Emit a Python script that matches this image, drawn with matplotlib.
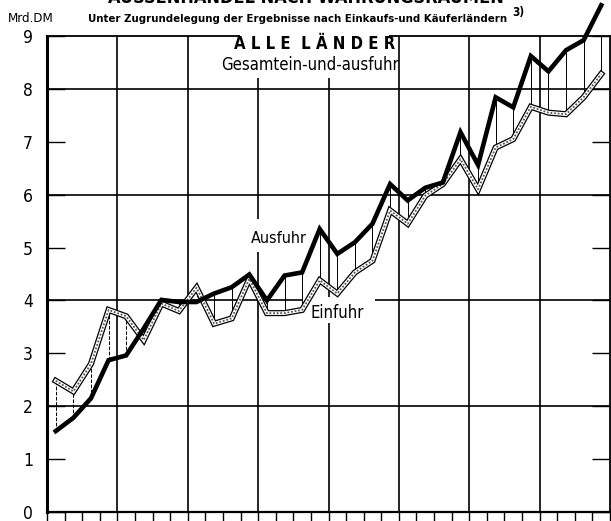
import matplotlib.pyplot as plt
import numpy as np
from matplotlib.patches import Rectangle

# quarterly values, Mrd. DM (8 years x 4 quarters)
ausfuhr = [1.53, 1.78, 2.15, 2.87, 2.96, 3.47, 4.01, 3.97,
           3.97, 4.13, 4.25, 4.49, 4.00, 4.47, 4.53, 5.35,
           4.88, 5.10, 5.45, 6.20, 5.89, 6.13, 6.23, 7.18,
           6.56, 7.84, 7.65, 8.62, 8.33, 8.73, 8.92, 9.58]
einfuhr = [2.48, 2.28, 2.80, 3.82, 3.70, 3.25, 3.94, 3.80,
           4.24, 3.56, 3.66, 4.41, 3.76, 3.76, 3.82, 4.38,
           4.13, 4.53, 4.75, 5.70, 5.45, 5.98, 6.20, 6.67,
           6.10, 6.89, 7.05, 7.66, 7.55, 7.52, 7.84, 8.28]
y_ticks = [0, 1, 2, 3, 4, 5, 6, 7, 8, 9]
n_years = 8

FONT = dict(family="DejaVu Sans", fontstretch="condensed")

fig = plt.figure(figsize=(6.11, 5.21), dpi=100)
ax = fig.add_axes([0.0769, 0.0173, 0.9215, 0.9137])
n = len(ausfuhr)
x = np.arange(n) + 0.5
ax.set_xlim(0, n)
ax.set_ylim(0, 9)

# grid: years vertical, every 2 Mrd horizontal
for yr in range(1, n_years):
    ax.axvline(yr * 4, color="black", lw=1.2, zorder=1)
for v in (2, 4, 6, 8):
    ax.axhline(v, color="black", lw=1.2, zorder=1)

# white knockouts behind the labels
for (x0, y0, w, h) in [(10.97, 8.2, 8.45, 1.0), (11.42, 4.91, 3.52, 0.62), (14.55, 3.57, 4.1, 0.5)]:
    ax.add_patch(Rectangle((x0, y0), w, h, facecolor="white", edgecolor="none",
                           zorder=2.7, clip_on=False))

# drop lines between the two series
for xi, a, e in zip(x, ausfuhr, einfuhr):
    ax.vlines(xi, min(a, e), max(a, e), color="black", lw=0.7,
              linestyles="--" if e > a else "-", zorder=3)

# Einfuhr: stippled double line
ax.plot(x, einfuhr, color="black", lw=4.4, solid_joinstyle="miter", zorder=4, clip_on=False)
ax.plot(x, einfuhr, color="white", lw=2.6, solid_joinstyle="miter", zorder=4.1, clip_on=False)
ax.plot(x, einfuhr, color="#555555", lw=1.3, dashes=(1, 1), zorder=4.2, clip_on=False)
# Ausfuhr: heavy black line
ax.plot(x, ausfuhr, color="black", lw=3.3, solid_joinstyle="miter", zorder=5, clip_on=False)

# axes styling
for side in ("top", "right"):
    ax.spines[side].set_linewidth(1.3)
ax.spines["left"].set_linewidth(2.2)
ax.spines["bottom"].set_linewidth(1.6)
ax.set_xticks(np.arange(0, n + 1))
ax.set_xticklabels([])
ax.tick_params(axis="x", direction="out", length=9, width=1.0)
ax.set_yticks(y_ticks)
ax.set_yticklabels([str(t) for t in y_ticks], fontsize=12.5, **FONT)
ax.tick_params(axis="y", direction="in", length=13, width=1.0, left=True, right=True, pad=10)

# texts
fig.text(0.5, 1 - 3 / 521, "AUSSENHANDEL NACH WÄHRUNGSRÄUMEN", fontsize=13,
         weight="bold", ha="center", va="baseline", **FONT)
fig.text(88 / 611, 1 - 22 / 521, "Unter Zugrundelegung der Ergebnisse nach Einkaufs-und Käuferländern",
         fontsize=8.2, weight="bold", ha="left", va="baseline", **FONT)
fig.text(512 / 611, 1 - 16 / 521, "3)", fontsize=8.5, weight="bold", ha="left",
         va="baseline", **FONT)
fig.text(8 / 611, 1 - 22 / 521, "Mrd.DM", fontsize=9.5, ha="left", va="baseline", **FONT)

ax.text(15.2, 8.85, "A L L E  L Ä N D E R", fontsize=12,
        weight="bold", ha="center", va="center", zorder=6, **FONT)
ax.text(14.95, 8.45, "Gesamtein-und-ausfuhr", fontsize=12,
        ha="center", va="center", zorder=6, **FONT)
ax.text(13.2, 5.17, "Ausfuhr", fontsize=11.5, ha="center", va="center", zorder=6, **FONT)
ax.text(16.5, 3.77, "Einfuhr", fontsize=12, ha="center", va="center", zorder=6, **FONT)

fig.savefig("out.png", dpi=100, facecolor="white")
